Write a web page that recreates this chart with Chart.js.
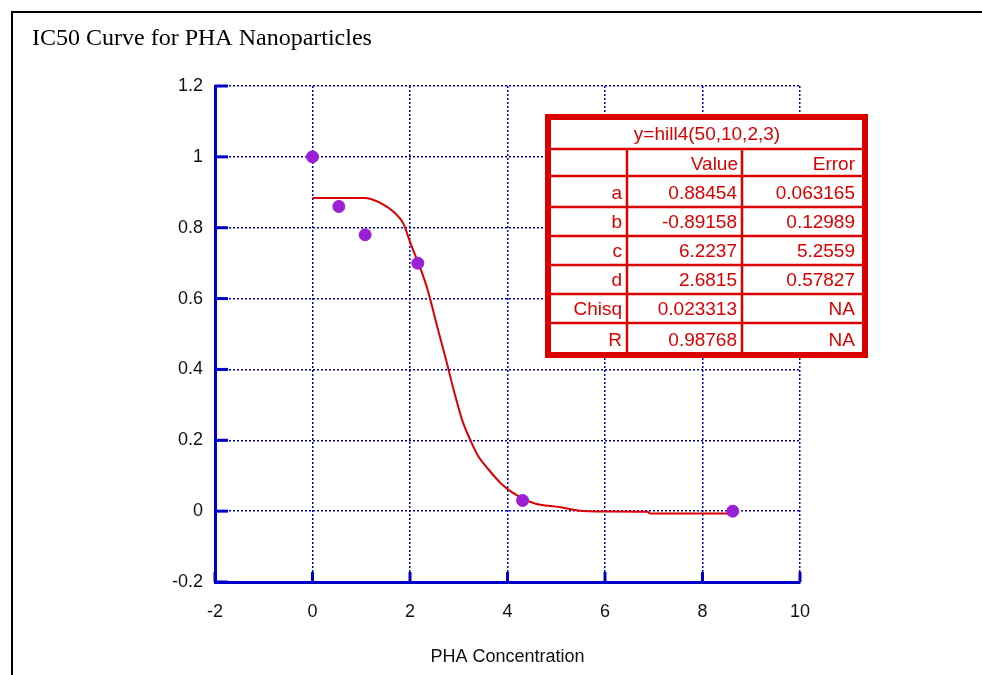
<!DOCTYPE html>
<html>
<head>
<meta charset="utf-8">
<script src="https://cdn.jsdelivr.net/npm/chart.js@4.4.1/dist/chart.umd.min.js"></script>
<style>
  body { margin: 0; background: #fff; overflow: hidden; }
  #wrap { position: relative; width: 982px; height: 675px; }
  #frame { position: absolute; left: 11px; top: 11px; width: 1000px; height: 1000px; border: 2px solid #000; box-sizing: border-box; }
  canvas { position: absolute; left: 0; top: 0; }
</style>
</head>
<body>
<div id="wrap">
  <div id="frame"></div>
  <canvas id="myChart" width="982" height="675"></canvas>
</div>
<script>
// measured points
var doseX = [0, 0.54, 1.08, 2.16, 4.31, 8.62];
var response = [1.0, 0.86, 0.78, 0.70, 0.03, 0.0];

// fitted hill4 curve
var fitX = [0, 1.07, 1.39, 1.70, 1.87, 2.0, 2.28, 2.38, 2.56, 2.73, 2.9, 3.07, 3.24, 3.40, 3.59, 3.86, 4.12, 4.53, 5.09, 5.44, 6.0, 6.87, 6.93, 8.6];
var fitY = [0.884, 0.884, 0.87, 0.84, 0.81, 0.76, 0.66, 0.616, 0.52, 0.432, 0.34, 0.257, 0.20, 0.155, 0.121, 0.079, 0.051, 0.023, 0.011, 0.002, -0.001, -0.002, -0.007, -0.007];

var yTickLabels = ['-0.2', '0', '0.2', '0.4', '0.6', '0.8', '1', '1.2'];
var xTickLabels = ['-2', '0', '2', '4', '6', '8', '10'];

var chartTitle = 'IC50 Curve for PHA Nanoparticles';
var xTitle = 'PHA Concentration';

// fit results table
var fitEquation = 'y=hill4(50,10,2,3)';
var tableHeader = ['', 'Value', 'Error'];
var paramNames = ['a', 'b', 'c', 'd', 'Chisq', 'R'];
var paramValues = ['0.88454', '-0.89158', '6.2237', '2.6815', '0.023313', '0.98768'];
var paramErrors = ['0.063165', '0.12989', '5.2559', '0.57827', 'NA', 'NA'];

var blue = '#0000c8';
var red = '#dd0000';

function toPoints(xs, ys) {
  return xs.map(function (x, i) { return {x: x, y: ys[i]}; });
}

// inner ticks, title and the fit table
var extras = {
  id: 'extras',
  afterDraw: function (chart) {
    var ctx = chart.ctx;
    var xs = chart.scales.x, ys = chart.scales.y;
    var area = chart.chartArea;
    ctx.save();
    ctx.strokeStyle = blue;
    ctx.lineWidth = 3;
    xs.ticks.forEach(function (t) {
      var px = xs.getPixelForValue(t.value);
      ctx.beginPath();
      ctx.moveTo(px, area.bottom);
      ctx.lineTo(px, area.bottom - 10);
      ctx.stroke();
    });
    ys.ticks.forEach(function (t) {
      var py = ys.getPixelForValue(t.value);
      ctx.beginPath();
      ctx.moveTo(area.left, py);
      ctx.lineTo(area.left + 13, py);
      ctx.stroke();
    });

    ctx.fillStyle = '#000';
    ctx.font = '24px "Liberation Serif", "Times New Roman", serif';
    ctx.textAlign = 'left';
    ctx.textBaseline = 'alphabetic';
    ctx.fillText(chartTitle, 32, 45);

    // table
    var L = 548, T = 117, R = 865, B = 355;
    var c1 = 627, c2 = 742;
    var rowLines = [149, 176, 207, 236, 265, 294, 323];
    ctx.fillStyle = '#fff';
    ctx.fillRect(L, T, R - L, B - T);
    ctx.strokeStyle = red;
    ctx.lineWidth = 6;
    ctx.strokeRect(L, T, R - L, B - T);
    ctx.lineWidth = 2.5;
    rowLines.forEach(function (y) {
      ctx.beginPath();
      ctx.moveTo(L, y);
      ctx.lineTo(R, y);
      ctx.stroke();
    });
    [c1, c2].forEach(function (x) {
      ctx.beginPath();
      ctx.moveTo(x, rowLines[0]);
      ctx.lineTo(x, B);
      ctx.stroke();
    });
    ctx.fillStyle = red;
    ctx.font = '19px "Liberation Sans", Arial, sans-serif';
    ctx.textAlign = 'center';
    ctx.fillText(fitEquation, 707, 140);
    ctx.textAlign = 'right';
    ctx.fillText(tableHeader[1], 738, 170);
    ctx.fillText(tableHeader[2], 855, 170);
    paramNames.forEach(function (n, i) {
      var by = rowLines[i + 2] ? rowLines[i + 2] - 8 : B - 9;
      ctx.fillText(n, 622, by);
      ctx.fillText(paramValues[i], 737, by);
      ctx.fillText(paramErrors[i], 855, by);
    });
    ctx.restore();
  }
};

var tickFont = { family: '"Liberation Sans", Arial', size: 18 };

var ctx = document.getElementById('myChart').getContext('2d');
var myChart = new Chart(ctx, {
  type: 'scatter',
  data: {
    datasets: [{
      label: 'fit',
      data: toPoints(fitX, fitY),
      showLine: true,
      borderColor: red,
      borderWidth: 2,
      pointRadius: 0,
      cubicInterpolationMode: 'monotone',
      order: 2
    }, {
      label: 'data',
      data: toPoints(doseX, response),
      backgroundColor: '#9a1fd6',
      borderColor: '#9a1fd6',
      pointRadius: 6,
      order: 1
    }]
  },
  options: {
    responsive: false,
    animation: false,
    layout: { padding: { left: 0, top: 86, right: 182, bottom: 0 } },
    plugins: {
      legend: { display: false },
      tooltip: { enabled: false }
    },
    scales: {
      x: {
        type: 'linear',
        min: -2, max: 10,
        ticks: { stepSize: 2, padding: 19, color: '#111', font: tickFont,
          callback: function (v, i) { return xTickLabels[i]; } },
        grid: { color: blue, lineWidth: 1.5, drawTicks: false },
        border: { color: blue, width: 3, dash: [2, 2] },
        title: { display: true, text: xTitle, color: '#111', font: tickFont, padding: { top: 0, bottom: 7 } },
        afterFit: function (s) { s.height = 93; }
      },
      y: {
        min: -0.2, max: 1.2,
        ticks: { stepSize: 0.2, padding: 12, color: '#111', font: tickFont,
          callback: function (v, i) { return yTickLabels[i]; } },
        grid: { color: blue, lineWidth: 1.5, drawTicks: false },
        border: { color: blue, width: 3, dash: [2, 2] },
        afterFit: function (s) { s.width = 215; }
      }
    }
  },
  plugins: [extras]
});
</script>
</body>
</html>
